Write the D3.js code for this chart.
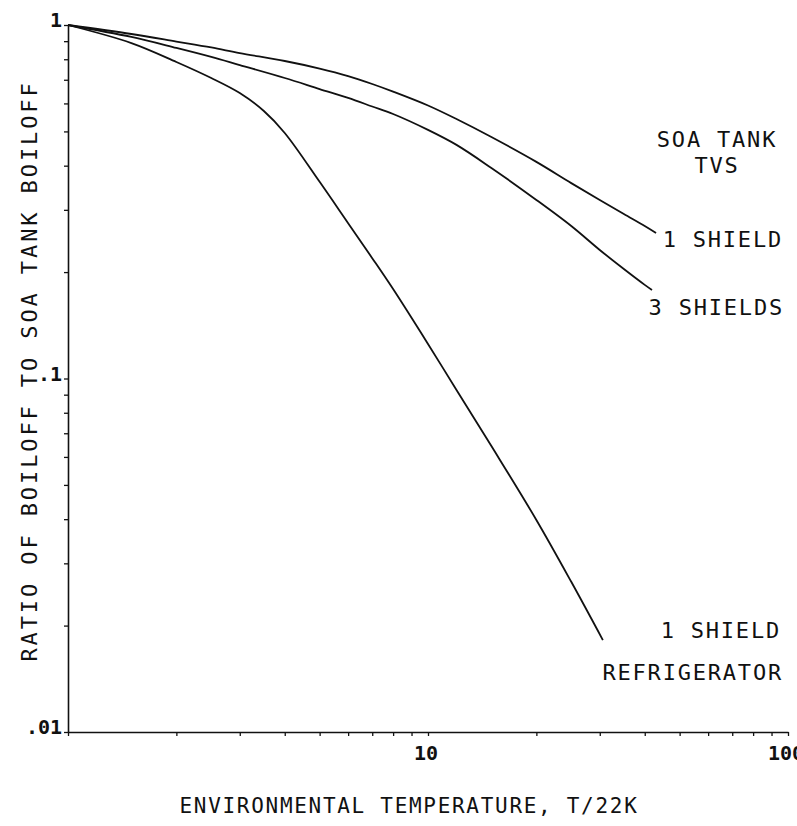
<!DOCTYPE html>
<html>
<head>
  <meta charset="utf-8">
  <title>Ratio of Boiloff to SOA Tank Boiloff</title>
  <style>
    body { margin: 0; background: #fff; }
    text { font-family: "DejaVu Sans Mono", "Liberation Mono", monospace; fill: #111; }
  </style>
</head>
<body>
  <script src="https://d3js.org/d3.v7.min.js"></script>
  <script type="text/javascript">
  // values (T/22K vs boiloff ratio)
  var tvs1T = [1, 1.5, 2, 2.5, 3, 4, 5, 6, 7, 8, 10, 12, 15, 20, 25, 30, 35, 40, 43];
  var tvs1R = [1, 0.943, 0.898, 0.864, 0.833, 0.791, 0.753, 0.717, 0.681, 0.648, 0.592, 0.542, 0.482, 0.410, 0.357, 0.320, 0.292, 0.270, 0.258];

  var tvs3T = [1, 1.5, 2, 2.5, 3, 4, 5, 6, 7, 8, 10, 12, 15, 20, 25, 30, 35, 40, 41.9];
  var tvs3R = [1, 0.925, 0.861, 0.812, 0.770, 0.708, 0.659, 0.622, 0.588, 0.560, 0.505, 0.458, 0.394, 0.320, 0.270, 0.231, 0.204, 0.184, 0.178];

  var refT = [1, 1.5, 2, 2.5, 3, 3.5, 4, 5, 6, 7, 8, 10, 12, 15, 20, 25, 30.6];
  var refR = [1, 0.889, 0.786, 0.708, 0.642, 0.571, 0.495, 0.360, 0.275, 0.219, 0.179, 0.1252, 0.0928, 0.0644, 0.0398, 0.0266, 0.0182];

  var yTickLabels = [1, 0.1, 0.01];
  var yTickText   = ["1", ".1", ".01"];
  var xTickLabels = [10, 100];
  var xTickText   = ["10", "100"];

  var width = 797, height = 826;
  var margin = {top: 25, right: 9, bottom: 94, left: 68};

  var svg = d3.select("body").append("svg")
      .attr("width", width)
      .attr("height", height);

  var x = d3.scaleLog()
      .domain([1, 100])
      .range([margin.left, width - margin.right]);

  var y = d3.scaleLog()
      .domain([0.01, 1])
      .range([height - margin.bottom, margin.top]);

  // minor log ticks
  var xTicks = [], yTicks = [];
  [1, 10].forEach(function(d){ for (var i = 1; i <= 9; i++) xTicks.push(d * i); });
  xTicks.push(100);
  [0.01, 0.1].forEach(function(d){ for (var i = 1; i <= 9; i++) yTicks.push(+(d * i).toFixed(3)); });
  yTicks.push(1);

  var xAxis = svg.append("g")
      .attr("transform", "translate(0," + y(0.01) + ")")
      .call(d3.axisBottom(x).tickValues(xTicks).tickSize(4).tickSizeOuter(0).tickFormat(""));

  var yAxis = svg.append("g")
      .attr("transform", "translate(" + x(1) + ",0)")
      .call(d3.axisLeft(y).tickValues(yTicks).tickSize(4).tickSizeOuter(0).tickFormat(""));

  [xAxis, yAxis].forEach(function(g){
    g.select(".domain").attr("stroke", "#111").attr("stroke-width", 1.6);
    g.selectAll(".tick line").attr("stroke", "#111").attr("stroke-width", 1.3);
  });

  // tick labels
  svg.selectAll(".ylab")
     .data(yTickLabels)
     .enter().append("text")
     .attr("class", "ylab")
     .attr("x", x(1) - 6)
     .attr("y", function(d){ return y(d) + 2; })
     .attr("text-anchor", "end")
     .attr("font-size", "20px")
     .attr("font-weight", "bold")
     .text(function(d, i){ return yTickText[i]; });

  svg.selectAll(".xlab")
     .data(xTickLabels)
     .enter().append("text")
     .attr("class", "xlab")
     .attr("x", function(d){ return x(d) - 2; })
     .attr("y", y(0.01) + 28)
     .attr("text-anchor", "middle")
     .attr("font-size", "20px")
     .attr("font-weight", "bold")
     .text(function(d, i){ return xTickText[i]; });

  // curves
  var series = [
    {T: tvs1T, R: tvs1R},
    {T: tvs3T, R: tvs3R},
    {T: refT,  R: refR}
  ];

  var line = d3.line()
      .x(function(d){ return x(d[0]); })
      .y(function(d){ return y(d[1]); })
      .curve(d3.curveCatmullRom.alpha(0.5));

  svg.selectAll(".curve")
     .data(series)
     .enter().append("path")
     .attr("class", "curve")
     .attr("fill", "none")
     .attr("stroke", "#111")
     .attr("stroke-width", 1.8)
     .attr("d", function(s){ return line(s.T.map(function(t, i){ return [t, s.R[i]]; })); });

  // annotations
  var notes = [
    {t: "SOA TANK",     x: 717, y: 147, a: "middle"},
    {t: "TVS",          x: 717, y: 173, a: "middle"},
    {t: "1 SHIELD",     x: 783, y: 247, a: "end"},
    {t: "3 SHIELDS",    x: 784, y: 315, a: "end"},
    {t: "1 SHIELD",     x: 781, y: 638, a: "end"},
    {t: "REFRIGERATOR", x: 783, y: 680, a: "end"}
  ];

  svg.selectAll(".note")
     .data(notes)
     .enter().append("text")
     .attr("class", "note")
     .attr("x", function(d){ return d.x; })
     .attr("y", function(d){ return d.y; })
     .attr("text-anchor", function(d){ return d.a; })
     .attr("font-size", "22px")
     .attr("letter-spacing", "1.8px")
     .text(function(d){ return d.t; });

  // axis titles
  svg.append("text")
     .attr("x", 409)
     .attr("y", 813)
     .attr("text-anchor", "middle")
     .attr("font-size", "21px")
     .attr("letter-spacing", "1.7px")
     .text("ENVIRONMENTAL TEMPERATURE, T/22K");

  svg.append("text")
     .attr("transform", "translate(37,371) rotate(-90)")
     .attr("text-anchor", "middle")
     .attr("font-size", "22px")
     .attr("letter-spacing", "2.9px")
     .text("RATIO OF BOILOFF TO SOA TANK BOILOFF");
  </script>
</body>
</html>
